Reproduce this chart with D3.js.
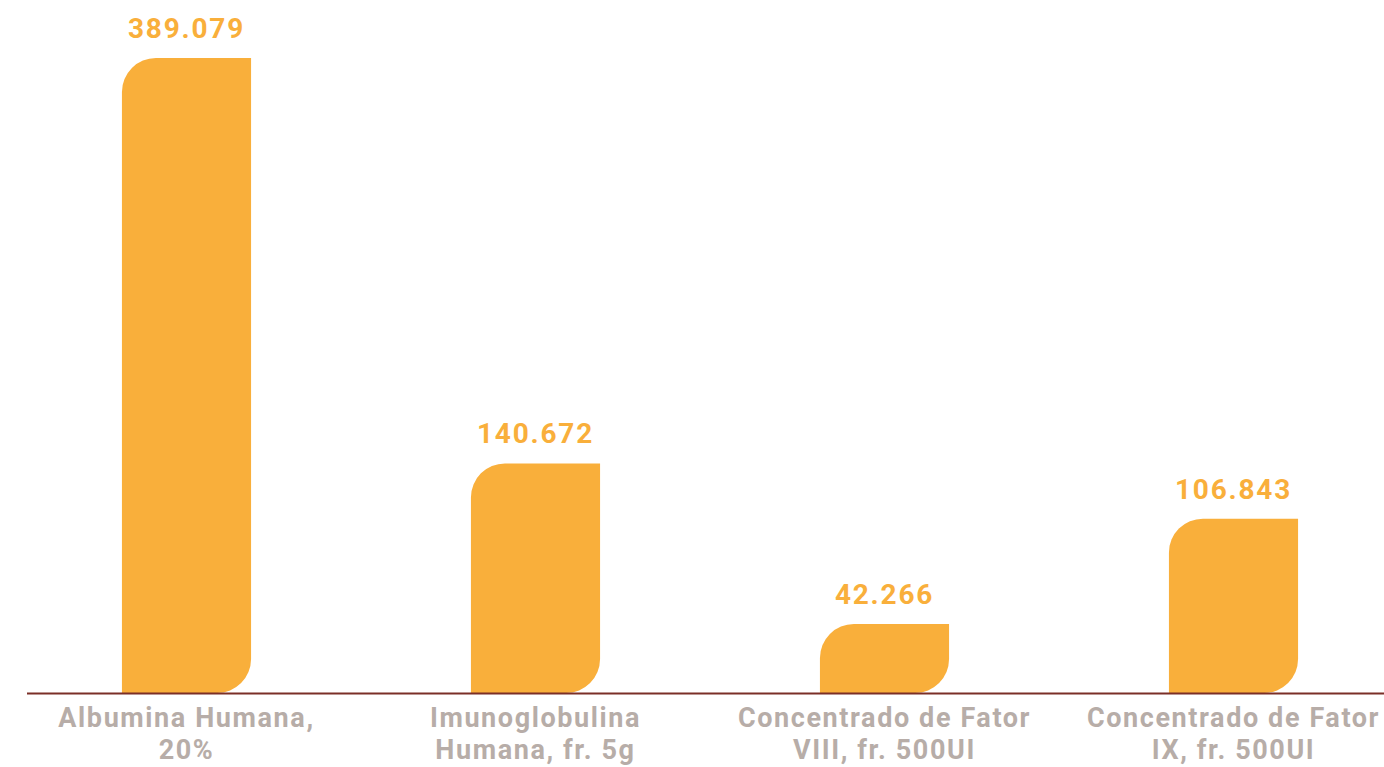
<!DOCTYPE html>
<html>
<head>
<meta charset="utf-8">
<script src="https://cdn.jsdelivr.net/npm/d3@7"></script>
<style>
  html, body { margin: 0; padding: 0; background: #ffffff; }
  svg { display: block; }
  text { font-family: Roboto, "Lato", sans-serif; font-weight: 700; }
</style>
</head>
<body>
<svg id="chart" width="1384" height="767"></svg>
<script>
const categories = [
  ["Albumina Humana,", "20%"],
  ["Imunoglobulina", "Humana, fr. 5g"],
  ["Concentrado de Fator", "VIII, fr. 500UI"],
  ["Concentrado de Fator", "IX, fr. 500UI"]
];
const values = [389079, 140672, 42266, 106843];
const valueLabels = ["389.079", "140.672", "42.266", "106.843"];

const W = 1384, H = 767;
const baseY = 693, topY = 58;
const svg = d3.select("#chart");

const x = d3.scaleBand()
  .domain(d3.range(values.length))
  .range([12, 1408])
  .paddingInner(0.63)
  .paddingOuter(0.315);

const y = d3.scaleLinear()
  .domain([0, d3.max(values)])
  .range([baseY, topY]);

const barColor = "#F9AF3B";
const r = 34;

function leafPath(x0, y0, w, h) {
  const rr = Math.min(r, h / 2, w / 2);
  const x1 = x0 + w, y1 = y0 + h;
  return `M${x0},${y1} L${x0},${y0 + rr} A${rr},${rr} 0 0 1 ${x0 + rr},${y0} L${x1},${y0} L${x1},${y1 - rr} A${rr},${rr} 0 0 1 ${x1 - rr},${y1} Z`;
}

svg.append("g").selectAll("path")
  .data(values)
  .join("path")
  .attr("d", (d, i) => leafPath(x(i), y(d), x.bandwidth(), baseY - y(d)))
  .attr("fill", barColor);

// axis line
svg.append("line")
  .attr("x1", 27).attr("x2", W)
  .attr("y1", baseY + 0.5).attr("y2", baseY + 0.5)
  .attr("stroke", "#7b2f27")
  .attr("stroke-width", 2);

// value labels
svg.append("g").selectAll("text")
  .data(values)
  .join("text")
  .attr("x", (d, i) => x(i) + x.bandwidth() / 2)
  .attr("y", d => y(d) - 20)
  .attr("text-anchor", "middle")
  .attr("fill", barColor)
  .attr("font-size", 28)
  .attr("letter-spacing", 1.8)
  .text((d, i) => valueLabels[i]);

// category labels (one text element per line)
const lines = [];
categories.forEach((c, i) => c.forEach((l, j) => lines.push({ i, j, l })));
svg.append("g").selectAll("text")
  .data(lines)
  .join("text")
  .attr("x", d => x(d.i) + x.bandwidth() / 2)
  .attr("y", d => 727 + d.j * 32)
  .attr("text-anchor", "middle")
  .attr("fill", "#b7ada8")
  .attr("font-size", 27)
  .attr("letter-spacing", 1.6)
  .text(d => d.l);
</script>
</body>
</html>
